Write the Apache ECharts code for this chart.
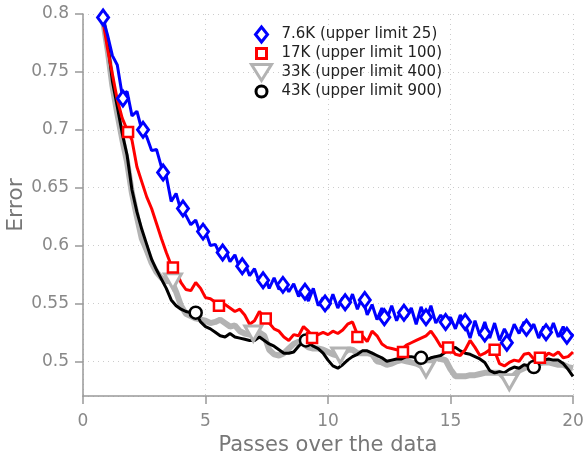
<!DOCTYPE html>
<html>
<head>
<meta charset="utf-8">
<script src="https://cdn.jsdelivr.net/npm/echarts@6/dist/echarts.min.js"></script>
<style>
html, body { margin: 0; padding: 0; background: #fff; }
#chart { width: 585px; height: 451px; }
</style>
</head>
<body>
<div id="chart"></div>
<script>
// passes over the data (x)
var passes = [0.8, 1.0, 1.2, 1.4, 1.6, 1.8, 2.0, 2.2, 2.4, 2.6, 2.8, 3.0, 3.2, 3.4, 3.6, 3.8, 4.0, 4.2, 4.4, 4.6,
    4.8, 5.0, 5.2, 5.4, 5.6, 5.8, 6.0, 6.2, 6.4, 6.6, 6.8, 7.0, 7.2, 7.4, 7.6, 7.8, 8.0, 8.2, 8.4, 8.6,
    8.8, 9.0, 9.2, 9.4, 9.6, 9.8, 10.0, 10.2, 10.4, 10.6, 10.8, 11.0, 11.2, 11.4, 11.6, 11.8, 12.0, 12.2, 12.4, 12.6,
    12.8, 13.0, 13.2, 13.4, 13.6, 13.8, 14.0, 14.2, 14.4, 14.6, 14.8, 15.0, 15.2, 15.4, 15.6, 15.8, 16.0, 16.2, 16.4, 16.6,
    16.8, 17.0, 17.2, 17.4, 17.6, 17.8, 18.0, 18.2, 18.4, 18.6, 18.8, 19.0, 19.2, 19.4, 19.6, 19.8, 20.0];

// error curves
var err76 = [0.797, 0.782, 0.764, 0.756, 0.730, 0.733, 0.712, 0.716, 0.700, 0.694, 0.682, 0.683, 0.668, 0.660, 0.638, 0.645, 0.630, 0.626, 0.618, 0.622,
    0.610, 0.612, 0.600, 0.601, 0.592, 0.597, 0.586, 0.592, 0.580, 0.585, 0.574, 0.580, 0.568, 0.574, 0.563, 0.572, 0.562, 0.568, 0.560, 0.567,
    0.556, 0.562, 0.552, 0.563, 0.548, 0.555, 0.546, 0.558, 0.546, 0.555, 0.547, 0.558, 0.545, 0.556, 0.540, 0.549, 0.536, 0.546, 0.536, 0.548,
    0.535, 0.545, 0.538, 0.546, 0.532, 0.547, 0.535, 0.548, 0.533, 0.540, 0.533, 0.538, 0.528, 0.540, 0.532, 0.520, 0.535, 0.522, 0.534, 0.520,
    0.533, 0.518, 0.528, 0.520, 0.532, 0.524, 0.534, 0.526, 0.532, 0.520, 0.530, 0.522, 0.533, 0.521, 0.530, 0.519, 0.524];
var err17 = [0.796, 0.770, 0.748, 0.726, 0.710, 0.700, 0.691, 0.668, 0.655, 0.642, 0.632, 0.619, 0.606, 0.594, 0.583, 0.578, 0.568, 0.562, 0.561, 0.568,
    0.563, 0.555, 0.554, 0.551, 0.548, 0.549, 0.546, 0.543, 0.545, 0.540, 0.532, 0.535, 0.543, 0.538, 0.533, 0.528, 0.526, 0.521, 0.518, 0.523,
    0.522, 0.530, 0.526, 0.521, 0.523, 0.525, 0.523, 0.526, 0.524, 0.527, 0.532, 0.534, 0.523, 0.522, 0.517, 0.526, 0.522, 0.515, 0.512, 0.511,
    0.510, 0.510, 0.514, 0.516, 0.518, 0.520, 0.522, 0.526, 0.520, 0.513, 0.512, 0.512, 0.506, 0.505, 0.510, 0.518, 0.512, 0.505, 0.507, 0.510,
    0.509, 0.498, 0.496, 0.499, 0.501, 0.500, 0.506, 0.507, 0.502, 0.504, 0.503, 0.507, 0.505, 0.508, 0.503, 0.504, 0.508];
var err33 = [0.797, 0.770, 0.738, 0.714, 0.692, 0.672, 0.645, 0.625, 0.606, 0.596, 0.585, 0.577, 0.572, 0.569, 0.570, 0.560, 0.548, 0.541, 0.539, 0.537,
    0.536, 0.535, 0.533, 0.534, 0.536, 0.533, 0.530, 0.531, 0.526, 0.524, 0.523, 0.524, 0.525, 0.522, 0.510, 0.506, 0.505, 0.507, 0.511, 0.515,
    0.517, 0.515, 0.512, 0.511, 0.511, 0.510, 0.508, 0.506, 0.505, 0.506, 0.510, 0.510, 0.507, 0.507, 0.507, 0.506, 0.500, 0.499, 0.497, 0.498,
    0.500, 0.501, 0.500, 0.499, 0.498, 0.496, 0.493, 0.501, 0.503, 0.502, 0.501, 0.493, 0.487, 0.487, 0.487, 0.488, 0.488, 0.489, 0.490, 0.490,
    0.490, 0.490, 0.486, 0.482, 0.488, 0.492, 0.494, 0.496, 0.497, 0.498, 0.499, 0.499, 0.498, 0.497, 0.497, 0.495, 0.494];
var err43 = [0.800, 0.776, 0.742, 0.720, 0.697, 0.678, 0.648, 0.629, 0.614, 0.601, 0.588, 0.579, 0.571, 0.563, 0.553, 0.548, 0.545, 0.543, 0.542, 0.542,
    0.534, 0.530, 0.528, 0.525, 0.522, 0.521, 0.524, 0.521, 0.520, 0.519, 0.518, 0.518, 0.521, 0.518, 0.515, 0.513, 0.510, 0.507, 0.507, 0.508,
    0.513, 0.517, 0.516, 0.513, 0.511, 0.507, 0.501, 0.496, 0.494, 0.497, 0.501, 0.504, 0.506, 0.509, 0.509, 0.507, 0.505, 0.503, 0.500, 0.501,
    0.502, 0.502, 0.504, 0.504, 0.503, 0.503, 0.501, 0.503, 0.504, 0.505, 0.508, 0.510, 0.512, 0.509, 0.507, 0.506, 0.504, 0.502, 0.499, 0.492,
    0.490, 0.491, 0.490, 0.493, 0.495, 0.494, 0.497, 0.496, 0.495, 0.499, 0.501, 0.502, 0.501, 0.501, 0.498, 0.493, 0.487];

// marker positions
var mark76X = [0.82, 1.63, 2.45, 3.27, 4.08, 4.9, 5.7, 6.5, 7.35, 8.16, 9.06, 9.88, 10.7, 11.5, 12.3, 13.1, 14.0, 14.8, 15.6, 16.4, 17.3, 18.1, 18.9, 19.75];
var mark76Y = [0.797, 0.727, 0.700, 0.663, 0.632, 0.612, 0.594, 0.582, 0.570, 0.566, 0.560, 0.550, 0.551, 0.553, 0.538, 0.542, 0.538, 0.534, 0.534, 0.524, 0.516, 0.529, 0.525, 0.522];
var mark17X = [1.84, 3.67, 5.55, 7.46, 9.35, 11.2, 13.06, 14.9, 16.8, 18.65];
var mark17Y = [0.698, 0.581, 0.548, 0.537, 0.520, 0.521, 0.508, 0.512, 0.510, 0.503];
var mark33X = [3.67, 6.95, 10.5, 14.0, 17.4];
var mark33Y = [0.569, 0.524, 0.505, 0.493, 0.482];
var mark43X = [4.6, 9.1, 13.8, 18.4];
var mark43Y = [0.542, 0.518, 0.503, 0.495];

var names = ['7.6K (upper limit 25)', '17K (upper limit 100)', '33K (upper limit 400)', '43K (upper limit 900)'];
var yTicks = [0.5, 0.55, 0.6, 0.65, 0.7, 0.75, 0.8];

function pairs(xs, ys) {
    var out = [];
    for (var i = 0; i < xs.length; i++) out.push([xs[i], ys[i]]);
    return out;
}

var font = 'DejaVu Sans';
var dom = document.getElementById('chart');
var myChart = echarts.init(dom, null, { renderer: 'canvas' });

// legend icons, padded with empty moves so they keep their own size in the 20x16 box
var iconDiamond = 'path://M6,0 L12,7.5 L6,15 L0,7.5 Z M0,-0.5 M0,15.5';
var iconSquare = 'path://M0,0 L10,0 L10,10 L0,10 Z M-3,-3 M13,13';
var iconTriangle = 'path://M0,0 L20,0 L10,16 Z';
var iconCircle = 'path://M0,5.5 A5.5,5.5 0 1,1 11,5.5 A5.5,5.5 0 1,1 0,5.5 Z M-2.5,-2.5 M13.5,13.5';
var triangleDown = 'path://M0,0 L20,0 L10,18 Z';

var lineOf = function (id, ys, color, width, z) {
    return {
        id: id, type: 'line', data: pairs(passes, ys), symbol: 'none', silent: true,
        lineStyle: { color: color, width: width }, z: z, animation: false
    };
};
var markOf = function (name, xs, ys, symbol, size, color, bw, z) {
    return {
        name: name, type: 'scatter', data: pairs(xs, ys), symbol: symbol, symbolSize: size,
        itemStyle: { color: '#fff', borderColor: color, borderWidth: bw, opacity: 1 },
        z: z, animation: false
    };
};

var option = {
    backgroundColor: '#fff',
    textStyle: { fontFamily: font },
    grid: { left: 83, right: 12, top: 14, bottom: 55, containLabel: false, outerBoundsMode: 'none' },
    legend: {
        data: [
            { name: names[0], icon: iconDiamond, itemStyle: { borderWidth: 3 } },
            { name: names[1], icon: iconSquare, itemStyle: { borderWidth: 3 } },
            { name: names[2], icon: iconTriangle, itemStyle: { borderWidth: 3 } },
            { name: names[3], icon: iconCircle, itemStyle: { borderWidth: 3 } }
        ],
        orient: 'vertical',
        left: 245, top: 20,
        itemWidth: 20, itemHeight: 16, itemGap: 0,
        symbolKeepAspect: true,
        textStyle: { fontFamily: font, fontSize: 15, lineHeight: 16, color: '#222', padding: [0, 0, 0, 5] }
    },
    xAxis: {
        type: 'value', min: 0, max: 20, interval: 5,
        name: 'Passes over the data', nameLocation: 'middle', nameGap: 35,
        nameTextStyle: { fontFamily: font, fontSize: 21, color: '#777' },
        axisLine: { lineStyle: { color: '#999', width: 1.5 } },
        axisTick: { inside: false, length: 8, lineStyle: { color: '#999', width: 1.5 } },
        axisLabel: { fontFamily: font, fontSize: 17, color: '#888', margin: 17 },
        splitLine: { show: true, lineStyle: { color: '#ccc', type: [1, 4], width: 1 } }
    },
    yAxis: {
        type: 'value', min: 0.47, max: 0.8, splitNumber: 7,
        name: 'Error', nameLocation: 'middle', nameGap: 56, nameMoveOverlap: false,
        nameTextStyle: { fontFamily: font, fontSize: 22, color: '#777' },
        axisLine: { show: true, lineStyle: { color: '#999', width: 1.5 } },
        axisTick: { show: true, inside: false, length: 8, lineStyle: { color: '#999', width: 1.5 } },
        axisLabel: {
            fontFamily: font, fontSize: 17, color: '#888', margin: 14, showMinLabel: false,
            formatter: function (v) { return yTicks.indexOf(Math.round(v * 100) / 100) >= 0 ? String(Math.round(v * 100) / 100) : ''; }
        },
        splitLine: { show: true, lineStyle: { color: '#ccc', type: [1, 4], width: 1 } }
    },
    series: [
        lineOf('l33', err33, '#b3b3b3', 6, 2),
        lineOf('l43', err43, '#000', 3, 3),
        lineOf('l17', err17, '#ff0000', 3, 4),
        lineOf('l76', err76, '#0000ff', 3, 5),
        markOf(names[0], mark76X, mark76Y, 'diamond', [11, 15], '#0000ff', 3, 10),
        markOf(names[1], mark17X, mark17Y, 'rect', 10, '#ff0000', 2.5, 9),
        markOf(names[2], mark33X, mark33Y, triangleDown, [17, 15], '#b3b3b3', 3, 7),
        markOf(names[3], mark43X, mark43Y, 'circle', 12, '#000', 2.5, 8)
    ]
};
myChart.setOption(option);
</script>
</body>
</html>
